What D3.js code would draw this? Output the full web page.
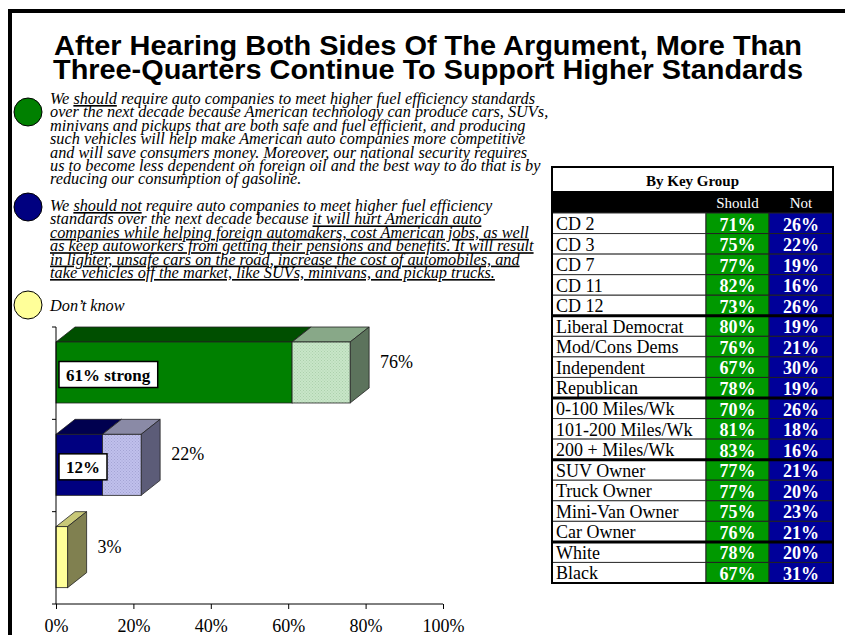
<!DOCTYPE html>
<html>
<head>
<meta charset="utf-8">
<script src="https://cdn.jsdelivr.net/npm/d3@7"></script>
<style>
  body { margin: 0; background: #fff; }
  svg { display: block; }
  .serif { font-family: "Liberation Serif", "Times New Roman", serif; }
</style>
</head>
<body>
<div id="chart"></div>
<script>
//Chart data
let categories = ["Should", "Should not", "Don't know"];
let strongValues = [61, 12, null];
let totalValues = [76, 22, 3];
let strongLabels = ["61% strong", "12%", null];
let xTicks = [0, 20, 40, 60, 80, 100];

//Table data
let rowLabels = ["CD 2", "CD 3", "CD 7", "CD 11", "CD 12",
  "Liberal Democrat", "Mod/Cons Dems", "Independent", "Republican",
  "0-100 Miles/Wk", "101-200 Miles/Wk", "200 + Miles/Wk",
  "SUV Owner", "Truck Owner", "Mini-Van Owner", "Car Owner",
  "White", "Black"];
let shouldPct = [71, 75, 77, 82, 73, 80, 76, 67, 78, 70, 81, 83, 77, 77, 75, 76, 78, 67];
let notPct = [26, 22, 19, 16, 26, 19, 21, 30, 19, 26, 18, 16, 21, 20, 23, 21, 20, 31];
let groupSizes = [5, 4, 3, 4, 2];

let titleLines = ["After Hearing Both Sides Of The Argument, More Than",
  "Three-Quarters Continue To Support Higher Standards"];

//Legend text, each line is a list of [text, underlined]
let legendItems = [
  {color: "#008000", lines: [
    [["We ", 0], ["should", 1], [" require auto companies to meet higher fuel efficiency standards", 0]],
    [["over the next decade because American technology can produce cars, SUVs,", 0]],
    [["minivans and pickups that are both safe and fuel efficient, and producing", 0]],
    [["such vehicles will help make American auto companies more competitive", 0]],
    [["and will save consumers money.  Moreover, our national security requires", 0]],
    [["us to become less dependent on foreign oil and the best way to do that is by", 0]],
    [["reducing our consumption of gasoline.", 0]]
  ]},
  {color: "#000080", lines: [
    [["We ", 0], ["should not", 1], [" require auto companies to meet higher fuel efficiency", 0]],
    [["standards over the next decade because ", 0], ["it will hurt American auto", 1]],
    [["companies while helping foreign automakers, cost American jobs, as well", 1]],
    [["as keep autoworkers from getting their pensions and benefits. It will result", 1]],
    [["in lighter, unsafe cars on the road, increase the cost of automobiles, and", 1]],
    [["take vehicles off the market, like SUVs, minivans, and pickup trucks.", 1]]
  ]},
  {color: "#ffff99", lines: [[["Don\u2019t know", 0]]]}
];

let width = 845, height = 635;

let svg = d3.select("#chart").append("svg")
  .attr("width", width)
  .attr("height", height);

//Frame
svg.append("path")
  .attr("d", "M10,640 L10,11 L850,11")
  .attr("fill", "none")
  .attr("stroke", "black")
  .attr("stroke-width", 4);

//Title
svg.append("g").selectAll("text")
  .data(titleLines)
  .enter().append("text")
  .attr("x", 428)
  .attr("y", (d, i) => 55 + i * 24)
  .attr("text-anchor", "middle")
  .style("font-family", "'Liberation Sans', Arial, sans-serif")
  .style("font-weight", "bold")
  .style("font-size", "28px")
  .attr("textLength", (d, i) => i === 0 ? 748 : 750)
  .attr("lengthAdjust", "spacingAndGlyphs")
  .text(d => d);

//Legend
let legendTop = [104, 211, 311];
let circleY = [112, 207, 305];
legendItems.forEach(function (item, k) {
  svg.append("circle")
    .attr("cx", 28)
    .attr("cy", circleY[k])
    .attr("r", 14)
    .attr("fill", item.color)
    .attr("stroke", "black")
    .attr("stroke-width", 1);

  let t = svg.append("text")
    .attr("class", "serif")
    .style("font-style", "italic")
    .style("font-size", "16.3px");
  item.lines.forEach(function (line, i) {
    line.forEach(function (part, j) {
      let ts = t.append("tspan").text(part[0]);
      if (j === 0) ts.attr("x", 50).attr("y", legendTop[k] + i * 13.4);
      if (part[1]) ts.attr("text-decoration", "underline");
    });
  });
});

//Bar chart
let x = d3.scaleLinear().domain([0, 100]).range([56, 443]);
let y = d3.scaleBand().domain(categories).range([327, 604]);

let depthX = 19, depthY = 15, faceH = 61;

let colors = [
  {front: "#008000", top: "#004f00", side: "#3d5c3d", light: "url(#dotGreen)", lightTop: "#88a888", lightSide: "#5c735c"},
  {front: "#000080", top: "#00004f", side: "#3d3d5c", light: "url(#dotBlue)", lightTop: "#8a8aa6", lightSide: "#5c5c78"},
  {front: "#ffff99", top: "#c8c878", side: "#808050"}
];

let defs = svg.append("defs");
function dotPattern(id, base, dot) {
  let p = defs.append("pattern")
    .attr("id", id)
    .attr("width", 3).attr("height", 3)
    .attr("patternUnits", "userSpaceOnUse");
  p.append("rect").attr("width", 3).attr("height", 3).attr("fill", base);
  p.append("rect").attr("width", 1).attr("height", 1).attr("fill", dot);
  p.append("rect").attr("x", 1.5).attr("y", 1.5).attr("width", 1).attr("height", 1).attr("fill", dot);
}
dotPattern("dotGreen", "#c8e6c8", "#acd0ac");
dotPattern("dotBlue", "#c0c0ec", "#a4a4d4");

function box3d(g, x0, x1, y0, front, top, side) {
  let y1 = y0 + faceH;
  g.append("path")
    .attr("d", `M${x0},${y0} L${x0 + depthX},${y0 - depthY} L${x1 + depthX},${y0 - depthY} L${x1},${y0} Z`)
    .attr("fill", top).attr("stroke", "#222").attr("stroke-width", 0.8);
  g.append("path")
    .attr("d", `M${x1},${y0} L${x1 + depthX},${y0 - depthY} L${x1 + depthX},${y1 - depthY} L${x1},${y1} Z`)
    .attr("fill", side).attr("stroke", "#222").attr("stroke-width", 0.8);
  g.append("rect")
    .attr("x", x0).attr("y", y0)
    .attr("width", x1 - x0).attr("height", faceH)
    .attr("fill", front).attr("stroke", "#222").attr("stroke-width", 0.8);
}

let bars = svg.append("g");
categories.forEach(function (c, i) {
  let y0 = y(c) + depthY;
  let c0 = colors[i];
  if (strongValues[i] !== null) {
    box3d(bars, x(0), x(strongValues[i]), y0, c0.front, c0.top, c0.side);
    box3d(bars, x(strongValues[i]), x(totalValues[i]), y0, c0.light, c0.lightTop, c0.lightSide);
  } else {
    box3d(bars, x(0), x(totalValues[i]), y0, c0.front, c0.top, c0.side);
  }

  //Total label
  bars.append("text")
    .attr("class", "serif")
    .attr("x", x(totalValues[i]) + depthX + 11)
    .attr("y", y(c) + 41)
    .style("font-size", "18px")
    .text(totalValues[i] + "%");

  //Strong label
  if (strongLabels[i]) {
    let lbl = bars.append("g");
    let txt = lbl.append("text")
      .attr("class", "serif")
      .attr("x", x(0) + 10)
      .attr("y", y0 + faceH / 2 + 8)
      .style("font-size", "17px")
      .style("font-weight", "bold")
      .text(strongLabels[i]);
    let bb = txt.node().getBBox();
    lbl.insert("rect", "text")
      .attr("x", x(0) + 3)
      .attr("y", y0 + faceH / 2 - 11)
      .attr("width", bb.width + 14)
      .attr("height", 26)
      .attr("fill", "white")
      .attr("stroke", "black")
      .attr("stroke-width", 1.5);
  }
});

//Axes
let xAxis = svg.append("g")
  .attr("transform", "translate(0,604)")
  .call(d3.axisBottom(x).tickValues(xTicks).tickSize(5).tickFormat(d => d + "%"));
xAxis.select(".domain").attr("d", "M56,0H443");
xAxis.selectAll("text")
  .attr("class", "serif")
  .attr("dy", "1.12em")
  .style("font-size", "18px")
  .attr("fill", "black");

let yAxis = svg.append("g")
  .attr("transform", "translate(56,0)");
yAxis.append("line")
  .attr("x1", 0).attr("x2", 0)
  .attr("y1", y.range()[0]).attr("y2", y.range()[1])
  .attr("stroke", "black");
yAxis.selectAll(".ytick")
  .data(categories.map(c => y(c)).concat([y.range()[1]]))
  .enter().append("line")
  .attr("class", "ytick")
  .attr("x1", -4).attr("x2", 0)
  .attr("y1", d => d).attr("y2", d => d)
  .attr("stroke", "black");

//Table
let tableX = 552, tableRight = 833;
let colShould = 706, colNot = 769;
let tableTop = 167;
let rowY = d3.scaleBand().domain(d3.range(rowLabels.length)).range([213, 583]);

let table = svg.append("g");
table.append("rect")
  .attr("x", tableX).attr("y", tableTop)
  .attr("width", tableRight - tableX).attr("height", 191 - tableTop)
  .attr("fill", "white");
table.append("text")
  .attr("class", "serif")
  .attr("x", (tableX + tableRight) / 2)
  .attr("y", 186)
  .attr("text-anchor", "middle")
  .style("font-size", "15px")
  .style("font-weight", "bold")
  .text("By Key Group");
table.append("rect")
  .attr("x", tableX).attr("y", 191)
  .attr("width", tableRight - tableX).attr("height", 213 - 191)
  .attr("fill", "black");
table.selectAll(".colhead")
  .data(["Should", "Not"])
  .enter().append("text")
  .attr("class", "serif")
  .attr("x", (d, i) => i === 0 ? (colShould + colNot) / 2 : (colNot + tableRight) / 2)
  .attr("y", 208)
  .attr("text-anchor", "middle")
  .attr("fill", "white")
  .style("font-size", "15px")
  .text(d => d);

let rows = table.selectAll(".row")
  .data(rowLabels)
  .enter().append("g")
  .attr("class", "row")
  .attr("transform", (d, i) => "translate(0," + rowY(i) + ")");
rows.append("rect")
  .attr("x", tableX).attr("width", colShould - tableX).attr("height", rowY.bandwidth())
  .attr("fill", "white").attr("stroke", "#333").attr("stroke-width", 1);
rows.append("rect")
  .attr("x", colShould).attr("width", colNot - colShould).attr("height", rowY.bandwidth())
  .attr("fill", "#009900").attr("stroke", "#222").attr("stroke-width", 1);
rows.append("rect")
  .attr("x", colNot).attr("width", tableRight - colNot).attr("height", rowY.bandwidth())
  .attr("fill", "#000099").attr("stroke", "#222").attr("stroke-width", 1);
rows.append("text")
  .attr("class", "serif")
  .attr("x", tableX + 4)
  .attr("y", rowY.bandwidth() - 3.5)
  .style("font-size", "18px")
  .text(d => d);
rows.append("text")
  .attr("class", "serif")
  .attr("x", (colShould + colNot) / 2)
  .attr("y", rowY.bandwidth() - 3)
  .attr("text-anchor", "middle")
  .attr("fill", "white")
  .style("font-size", "18px")
  .style("font-weight", "bold")
  .text((d, i) => shouldPct[i] + "%");
rows.append("text")
  .attr("class", "serif")
  .attr("x", (colNot + tableRight) / 2)
  .attr("y", rowY.bandwidth() - 3)
  .attr("text-anchor", "middle")
  .attr("fill", "white")
  .style("font-size", "18px")
  .style("font-weight", "bold")
  .text((d, i) => notPct[i] + "%");

//Group separators
let breaks = [];
let acc = 0;
groupSizes.slice(0, -1).forEach(function (n) { acc += n; breaks.push(acc); });
table.selectAll(".sep")
  .data(breaks)
  .enter().append("line")
  .attr("x1", tableX).attr("x2", tableRight)
  .attr("y1", d => rowY(d)).attr("y2", d => rowY(d))
  .attr("stroke", "black").attr("stroke-width", 3);

//Outer border
table.append("rect")
  .attr("x", tableX).attr("y", tableTop)
  .attr("width", tableRight - tableX).attr("height", 583 - tableTop)
  .attr("fill", "none").attr("stroke", "black").attr("stroke-width", 2);
</script>
</body>
</html>
